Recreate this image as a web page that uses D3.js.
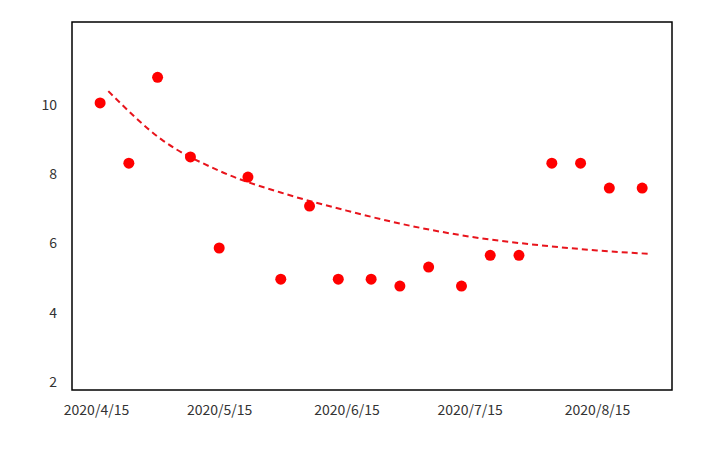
<!DOCTYPE html>
<html><head><meta charset="utf-8">
<script src="https://cdn.jsdelivr.net/npm/d3@7"></script>
<style>body{margin:0;background:#fff;font-family:"Noto Sans CJK SC","Noto Sans",sans-serif;}</style>
</head><body>
<script>
var dates = ["2020-04-16","2020-04-23","2020-04-30","2020-05-08","2020-05-15","2020-05-22","2020-05-30","2020-06-06","2020-06-13","2020-06-21","2020-06-28","2020-07-05","2020-07-13","2020-07-20","2020-07-27","2020-08-04","2020-08-11","2020-08-18","2020-08-26"];
var values = [10.06,8.32,10.8,8.5,5.87,7.92,4.97,7.08,4.97,4.97,4.77,5.32,4.77,5.66,5.66,8.32,8.32,7.6,7.6];
var trendDates = ["2020-04-18","2020-05-01","2020-05-15","2020-06-01","2020-06-15","2020-07-01","2020-07-15","2020-08-01","2020-08-15","2020-08-28"];
var trendValues = [10.4,9.0,8.1,7.4,6.95,6.5,6.2,5.95,5.8,5.7];
var xTicks = ["2020-04-15","2020-05-15","2020-06-15","2020-07-15","2020-08-15"];
var yTicks = [2,4,6,8,10];

var w = 724, h = 449;
var parse = d3.timeParse("%Y-%m-%d");
var svg = d3.select("body").append("svg").attr("width", w).attr("height", h);

var x = d3.scaleTime().domain([parse("2020-04-15"), parse("2020-08-15")]).range([96, 597]);
var y = d3.scaleLinear().domain([2, 10]).range([382, 105]);

svg.append("rect").attr("x", 72).attr("y", 22).attr("width", 600).attr("height", 368)
  .attr("fill", "none").attr("stroke", "#000").attr("stroke-width", 1.5);

var xa = svg.append("g").attr("transform", "translate(0,392)")
  .call(d3.axisBottom(x).tickValues(xTicks.map(parse)).tickSize(0).tickPadding(13)
    .tickFormat(function(d){ return d3.timeFormat("%Y/%-m/%-d")(d); }));
xa.select(".domain").remove();
xa.selectAll("text").attr("font-size", 14).attr("fill", "#333").attr("font-family", "Noto Sans CJK SC");

var ya = svg.append("g").attr("transform", "translate(57,0)")
  .call(d3.axisLeft(y).tickValues(yTicks).tickSize(0).tickPadding(0));
ya.select(".domain").remove();
ya.selectAll("text").attr("font-size", 14).attr("fill", "#333").attr("font-family", "Noto Sans CJK SC");

var line = d3.line().curve(d3.curveMonotoneX)
  .x(function(d, i){ return x(parse(trendDates[i])); })
  .y(function(d){ return y(d); });
svg.append("path").datum(trendValues).attr("d", line)
  .attr("fill", "none").attr("stroke", "#e8141c").attr("stroke-width", 2).attr("stroke-dasharray", "6,4");

svg.selectAll(".pt").data(values).enter().append("circle").attr("class", "pt")
  .attr("cx", function(d, i){ return x(parse(dates[i])); })
  .attr("cy", function(d){ return y(d); })
  .attr("r", 5.5).attr("fill", "#f00");
</script>
</body></html>
